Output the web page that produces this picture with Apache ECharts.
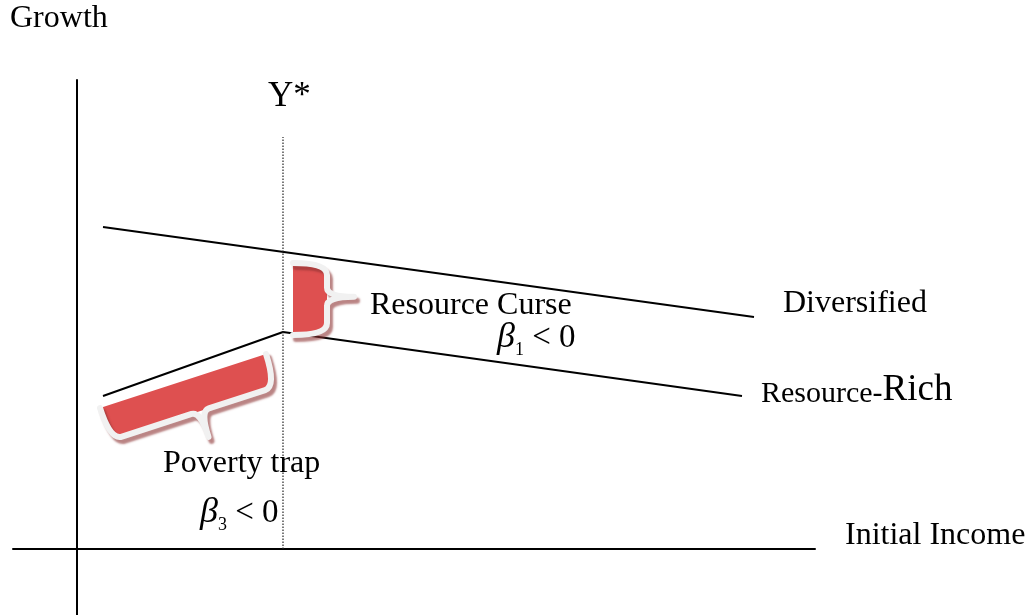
<!DOCTYPE html>
<html>
<head>
<meta charset="utf-8">
<style>
html, body { margin: 0; padding: 0; background: #fff; }
#main { width: 1033px; height: 615px; }
</style>
<script src="https://cdn.jsdelivr.net/npm/echarts@6/dist/echarts.min.js"></script>
</head>
<body>
<div id="main"></div>
<script>
// x = initial income, y = growth (diagram units, origin where the axes cross)
var diversified = [[2.6, 32.2], [67.7, 23.2]];
var resourceRich = [[2.6, 15.3], [20.6, 21.7], [66.5, 15.3]];
var yStar = 20.6;
var yStarTop = 41.2;

// braces: base start x, start y, end x, end y, where the tip sits along the base
var curseBrace = [21.6, 28.6, 21.6, 21.4, 0.47];
var trapBrace = [18.9, 19.5, 2.3, 14.1, 0.46];

// annotations (left edge, middle)
var labelText = ['Growth', 'Y*', 'Diversified', '{sm|Resource-}{big|Rich}', 'Resource Curse',
    '{b|β}{s|1}{t| < 0}', 'Poverty trap', '{b|β}{s|3}{t| < 0}', 'Initial Income'];
var labelX = [-6.7, 19.1, 70.6, 68.4, 29.3, 42.0, 8.6, 12.3, 76.8];
var labelY = [53.0, 45.2, 24.5, 15.9, 24.3, 21.1, 8.5, 3.6, 1.3];

var serif = "'Liberation Serif', 'Times New Roman', serif";

var myChart = echarts.init(document.getElementById('main'));

function renderBrace(params, api) {
    var a = api.coord([api.value(0), api.value(1)]);
    var b = api.coord([api.value(2), api.value(3)]);
    var f = api.value(4);
    var dx = b[0] - a[0], dy = b[1] - a[1];
    var L = Math.sqrt(dx * dx + dy * dy);
    var ux = dx / L, uy = dy / L;
    var nx = uy, ny = -ux;
    var d = 34, t = 27, r = 12, r2 = 9;
    var m = L * f;
    function P(u, v) {
        return (a[0] + ux * u + nx * v).toFixed(2) + ' ' + (a[1] + uy * u + ny * v).toFixed(2);
    }
    var curve = 'M' + P(0, 0)
        + ' Q' + P(0, d) + ' ' + P(r, d)
        + ' L' + P(m - r2, d)
        + ' Q' + P(m, d) + ' ' + P(m, d + t)
        + ' M' + P(m, d + t)
        + ' Q' + P(m, d) + ' ' + P(m + r2, d)
        + ' L' + P(L - r, d)
        + ' Q' + P(L, d) + ' ' + P(L, 0);
    var fill = 'M' + P(0, 0)
        + ' Q' + P(0, d) + ' ' + P(r, d)
        + ' L' + P(L - r, d)
        + ' Q' + P(L, d) + ' ' + P(L, 0) + ' Z';
    return {
        type: 'group',
        children: [{
            type: 'path',
            shape: { pathData: fill },
            style: { fill: '#de5050', stroke: null }
        }, {
            type: 'path',
            shape: { pathData: curve },
            style: {
                fill: null,
                stroke: '#f1f1f1',
                lineWidth: 6,
                lineCap: 'round',
                lineJoin: 'round',
                shadowColor: 'rgba(140,50,50,0.6)',
                shadowBlur: 2,
                shadowOffsetX: 3,
                shadowOffsetY: 4
            }
        }]
    };
}

var richStyles = {
    sm: { fontSize: 30, fontFamily: serif, verticalAlign: 'bottom', lineHeight: 38 },
    big: { fontSize: 37, fontFamily: serif, verticalAlign: 'bottom', lineHeight: 38 },
    b: { fontSize: 36, fontStyle: 'italic', fontFamily: serif, lineHeight: 42 },
    s: { fontSize: 18, fontFamily: serif, lineHeight: 18, verticalAlign: 'bottom' },
    t: { fontSize: 33, fontFamily: serif, lineHeight: 42 }
};

function renderLabel(params, api) {
    var i = params.dataIndex;
    var p = api.coord([api.value(0), api.value(1)]);
    return {
        type: 'text',
        x: p[0],
        y: p[1],
        style: {
            text: labelText[i],
            fill: '#000',
            fontSize: i === 1 ? 35 : 32,
            fontFamily: serif,
            align: 'left',
            verticalAlign: 'middle',
            rich: richStyles
        }
    };
}

var blackLine = { color: '#000', width: 2 };

option = {
    animation: false,
    backgroundColor: '#fff',
    grid: { left: 13, right: 218, top: 80, bottom: 0 },
    xAxis: {
        type: 'value',
        min: -6.4,
        max: 73.8,
        axisLine: { show: true, onZero: true, lineStyle: blackLine },
        axisTick: { show: false },
        axisLabel: { show: false },
        splitLine: { show: false }
    },
    yAxis: {
        type: 'value',
        min: -6.6,
        max: 46.9,
        axisLine: { show: true, onZero: true, lineStyle: blackLine },
        axisTick: { show: false },
        axisLabel: { show: false },
        splitLine: { show: false }
    },
    series: [
        {
            name: 'Diversified',
            type: 'line',
            data: diversified,
            symbol: 'none',
            lineStyle: blackLine
        },
        {
            name: 'Resource-Rich',
            type: 'line',
            data: resourceRich,
            symbol: 'none',
            lineStyle: blackLine
        },
        {
            name: 'Y*',
            type: 'line',
            data: [[yStar, 0], [yStar, yStarTop]],
            symbol: 'none',
            lineStyle: { color: '#222', width: 1.2, type: [1.5, 1.5] }
        },
        {
            type: 'custom',
            renderItem: renderBrace,
            clip: false,
            encode: { x: [0, 2], y: [1, 3] },
            data: [curseBrace, trapBrace],
            z: 5
        },
        {
            type: 'custom',
            renderItem: renderLabel,
            clip: false,
            encode: { x: 0, y: 1 },
            data: labelX.map(function(x, i) { return [x, labelY[i]]; }),
            z: 6
        }
    ]
};

myChart.setOption(option);
</script>
</body>
</html>
